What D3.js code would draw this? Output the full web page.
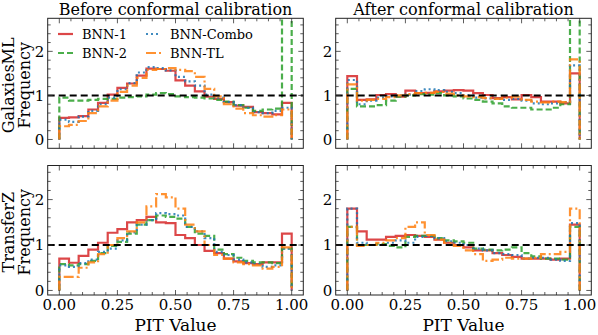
<!DOCTYPE html>
<html>
<head>
<meta charset="utf-8">
<script src="https://cdn.jsdelivr.net/npm/d3@7"></script>
<style>
  body { margin: 0; background: #fff; }
  svg { display: block; font-family: "DejaVu Serif", serif; }
</style>
</head>
<body>
<svg width="598" height="335"></svg>
<script>
// PIT histograms, 24 equal bins on [0, 1]
var nBins = 24;
var seriesNames = ['BNN-1', 'BNN-2', 'BNN-Combo', 'BNN-TL'];
var colTitles = ['Before conformal calibration', 'After conformal calibration'];
var rowLabels = ['GalaxiesML', 'TransferZ'];
var xTicks = [0, 0.25, 0.5, 0.75, 1.0];
var yTicks = [0, 1, 2];

// GalaxiesML, before
var gmlBeforeBnn1 = [0.49, 0.50, 0.53, 0.68, 0.83, 1.02, 1.17, 1.27, 1.45, 1.61, 1.60, 1.56, 1.34, 1.22, 1.09, 0.97, 0.92, 0.85, 0.77, 0.74, 0.62, 0.60, 0.57, 0.83];
var gmlBeforeBnn2 = [0.95, 0.88, 0.88, 0.90, 0.92, 0.92, 0.95, 0.96, 0.98, 1.02, 1.05, 1.03, 0.98, 0.96, 0.95, 0.93, 0.90, 0.86, 0.78, 0.72, 0.65, 0.68, 0.70, 6.0];
var gmlBeforeCombo = [0.45, 0.40, 0.52, 0.65, 0.80, 0.95, 1.14, 1.28, 1.52, 1.64, 1.62, 1.57, 1.42, 1.32, 1.22, 1.02, 0.95, 0.85, 0.78, 0.72, 0.62, 0.60, 0.65, 0.72];
var gmlBeforeTl = [0.30, 0.33, 0.42, 0.60, 0.75, 0.88, 1.08, 1.22, 1.40, 1.58, 1.60, 1.62, 1.58, 1.55, 1.42, 1.15, 0.98, 0.80, 0.70, 0.60, 0.55, 0.52, 0.55, 0.68];

// GalaxiesML, after
var gmlAfterBnn1 = [1.44, 0.90, 0.91, 1.01, 1.03, 0.97, 1.11, 1.05, 1.06, 1.09, 1.11, 1.12, 1.11, 1.05, 1.01, 0.94, 0.96, 0.91, 1.01, 0.96, 0.86, 0.86, 0.82, 1.50];
var gmlAfterBnn2 = [1.15, 0.75, 0.75, 0.78, 0.88, 0.97, 1.00, 1.03, 1.02, 1.05, 1.00, 0.98, 0.93, 0.90, 0.86, 0.82, 0.75, 0.72, 0.72, 0.68, 0.68, 0.72, 0.80, 6.0];
var gmlAfterCombo = [1.35, 0.80, 0.88, 0.95, 0.98, 1.00, 1.02, 1.10, 1.14, 1.12, 1.08, 1.05, 1.00, 0.95, 0.93, 0.92, 0.90, 0.92, 0.88, 0.82, 0.80, 0.82, 0.85, 1.68];
var gmlAfterTl = [1.25, 0.88, 0.90, 0.92, 0.96, 1.00, 1.03, 1.05, 1.06, 1.08, 1.04, 1.00, 0.98, 0.96, 0.94, 0.92, 0.95, 0.97, 0.90, 0.86, 0.84, 0.86, 0.85, 1.82];

// TransferZ, before
var tzBeforeBnn1 = [0.70, 0.61, 0.76, 0.90, 1.05, 1.27, 1.35, 1.50, 1.55, 1.62, 1.50, 1.48, 1.22, 1.15, 1.00, 0.87, 0.82, 0.70, 0.64, 0.60, 0.58, 0.62, 0.62, 1.25];
var tzBeforeBnn2 = [0.58, 0.55, 0.58, 0.65, 0.82, 0.98, 1.07, 1.25, 1.45, 1.55, 1.65, 1.62, 1.58, 1.40, 1.25, 1.20, 0.90, 0.80, 0.72, 0.65, 0.62, 0.62, 0.60, 0.92];
var tzBeforeCombo = [0.55, 0.52, 0.60, 0.68, 0.85, 0.92, 1.10, 1.28, 1.45, 1.55, 1.70, 1.68, 1.65, 1.40, 1.30, 1.15, 0.85, 0.78, 0.68, 0.62, 0.58, 0.52, 0.55, 0.92];
var tzBeforeTl = [0.30, 0.30, 0.50, 0.62, 0.80, 1.00, 1.15, 1.30, 1.50, 1.85, 2.12, 2.05, 1.80, 1.45, 1.30, 1.00, 0.78, 0.70, 0.62, 0.58, 0.55, 0.48, 0.52, 0.95];

// TransferZ, after
var tzAfterBnn1 = [1.80, 1.30, 1.12, 1.12, 1.18, 1.20, 1.22, 1.20, 1.18, 1.12, 1.05, 1.00, 0.95, 0.88, 0.88, 0.82, 0.78, 0.74, 0.70, 0.70, 0.70, 0.68, 0.70, 1.45];
var tzAfterBnn2 = [1.40, 1.00, 1.00, 1.02, 0.98, 0.95, 1.18, 1.20, 1.20, 1.15, 1.10, 1.08, 1.05, 0.92, 0.90, 0.88, 0.90, 0.95, 0.82, 0.75, 0.70, 0.70, 0.68, 1.40];
var tzAfterCombo = [1.80, 1.05, 1.00, 1.00, 1.05, 1.10, 1.05, 1.18, 1.20, 1.15, 1.08, 1.05, 1.00, 0.92, 0.88, 0.82, 0.80, 0.78, 0.70, 0.72, 0.72, 0.68, 0.65, 1.48];
var tzAfterTl = [1.40, 0.98, 1.00, 1.05, 1.10, 1.15, 1.40, 1.50, 1.22, 1.12, 1.05, 0.98, 0.88, 0.80, 0.65, 0.68, 0.72, 0.70, 0.70, 0.72, 0.80, 0.80, 0.85, 1.80];

var colors = ['#d62728', '#2ca02c', '#1f77b4', '#ff7f0e'];
var dashes = [null, '6,3', '2,3', '10,3,2,3'];

var panels = [
    { row: 0, col: 0, ylim: [-0.2, 2.75], series: [gmlBeforeBnn1, gmlBeforeBnn2, gmlBeforeCombo, gmlBeforeTl] },
    { row: 0, col: 1, ylim: [-0.2, 2.75], series: [gmlAfterBnn1, gmlAfterBnn2, gmlAfterCombo, gmlAfterTl] },
    { row: 1, col: 0, ylim: [-0.1, 2.75], series: [tzBeforeBnn1, tzBeforeBnn2, tzBeforeCombo, tzBeforeTl] },
    { row: 1, col: 1, ylim: [-0.1, 2.75], series: [tzAfterBnn1, tzAfterBnn2, tzAfterCombo, tzAfterTl] }
];

var colX = [[47.7, 303.3], [335.7, 591.3]];
var rowY = [[18.3, 148.3], [165.5, 295]];
var edges = d3.range(nBins + 1).map(function (i) { return i / nBins; });

var svg = d3.select('svg');

panels.forEach(function (p, pi) {
    var x = d3.scaleLinear().domain([-0.05, 1.05]).range(colX[p.col]);
    var y = d3.scaleLinear().domain(p.ylim).range([rowY[p.row][1], rowY[p.row][0]]);
    var L = colX[p.col][0], R = colX[p.col][1], T = rowY[p.row][0], B = rowY[p.row][1];

    var g = svg.append('g');
    var clipId = 'clip' + pi;
    g.append('clipPath').attr('id', clipId)
        .append('rect').attr('x', L).attr('y', T).attr('width', R - L).attr('height', B - T);

    var plot = g.append('g').attr('clip-path', 'url(#' + clipId + ')');

    var step = d3.line()
        .x(function (d) { return x(d[0]); })
        .y(function (d) { return y(d[1]); });

    p.series.forEach(function (vals, si) {
        var pts = [[0, 0]];
        vals.forEach(function (v, i) {
            pts.push([edges[i], v]);
            pts.push([edges[i + 1], v]);
        });
        pts.push([1, 0]);
        plot.append('path')
            .attr('d', step(pts))
            .attr('fill', 'none')
            .attr('stroke', colors[si])
            .attr('stroke-width', 2.2)
            .attr('stroke-opacity', 0.85)
            .attr('stroke-dasharray', dashes[si]);
    });

    // reference line at 1
    plot.append('line')
        .attr('x1', L).attr('x2', R)
        .attr('y1', y(1)).attr('y2', y(1))
        .attr('stroke', '#000')
        .attr('stroke-width', 2)
        .attr('stroke-dasharray', '7,4');

    // ticks, inward on every side
    var xMinor = d3.range(0, 1.0001, 0.05);
    var yMinor = d3.range(0, p.ylim[1], 0.2);
    var tk = g.append('g').attr('stroke', '#333').attr('stroke-width', 0.8);
    xMinor.forEach(function (v) {
        var major = xTicks.some(function (t) { return Math.abs(t - v) < 1e-6; });
        var len = major ? 5 : 3;
        tk.append('line').attr('x1', x(v)).attr('x2', x(v)).attr('y1', B).attr('y2', B - len);
        tk.append('line').attr('x1', x(v)).attr('x2', x(v)).attr('y1', T).attr('y2', T + len);
    });
    yMinor.forEach(function (v) {
        var major = yTicks.some(function (t) { return Math.abs(t - v) < 1e-6; });
        var len = major ? 5 : 3;
        tk.append('line').attr('y1', y(v)).attr('y2', y(v)).attr('x1', L).attr('x2', L + len);
        tk.append('line').attr('y1', y(v)).attr('y2', y(v)).attr('x1', R).attr('x2', R - len);
    });

    g.append('rect')
        .attr('x', L).attr('y', T).attr('width', R - L).attr('height', B - T)
        .attr('fill', 'none').attr('stroke', '#222').attr('stroke-width', 1);

    yTicks.forEach(function (t) {
        g.append('text')
            .attr('x', L - 3.5).attr('y', y(t))
            .attr('dy', '0.36em')
            .attr('text-anchor', 'end')
            .attr('font-size', 15)
            .text(t);
    });

    if (p.row === 1) {
        xTicks.forEach(function (t) {
            g.append('text')
                .attr('x', x(t)).attr('y', B + 15)
                .attr('text-anchor', 'middle')
                .attr('font-size', 15)
                .text(d3.format('.2f')(t));
        });
        g.append('text')
            .attr('x', (L + R) / 2).attr('y', 331)
            .attr('text-anchor', 'middle')
            .attr('font-size', 17)
            .text('PIT Value');
    }
    if (p.row === 0) {
        g.append('text')
            .attr('x', (L + R) / 2).attr('y', 14.5)
            .attr('text-anchor', 'middle')
            .attr('font-size', 16)
            .text(colTitles[p.col]);
    }
    if (p.col === 0) {
        var cy = (T + B) / 2 + 2;
        g.append('text')
            .attr('transform', 'translate(14,' + cy + ') rotate(-90)')
            .attr('text-anchor', 'middle')
            .attr('font-size', 16)
            .text(rowLabels[p.row]);
        g.append('text')
            .attr('transform', 'translate(30,' + cy + ') rotate(-90)')
            .attr('text-anchor', 'middle')
            .attr('font-size', 16)
            .text('Frequency');
    }

    // legend in the first panel, two columns
    if (pi === 0) {
        var lg = g.append('g');
        seriesNames.forEach(function (name, si) {
            var cx = si < 2 ? 58 : 146;
            var ly = si % 2 === 0 ? 34 : 53;
            lg.append('line')
                .attr('x1', cx).attr('x2', cx + 15)
                .attr('y1', ly).attr('y2', ly)
                .attr('stroke', colors[si])
                .attr('stroke-width', 2.2)
                .attr('stroke-opacity', 0.85)
                .attr('stroke-dasharray', dashes[si]);
            lg.append('text')
                .attr('x', cx + 24).attr('y', ly)
                .attr('dy', '0.35em')
                .attr('font-size', 13)
                .text(name);
        });
    }
});
</script>
</body>
</html>
